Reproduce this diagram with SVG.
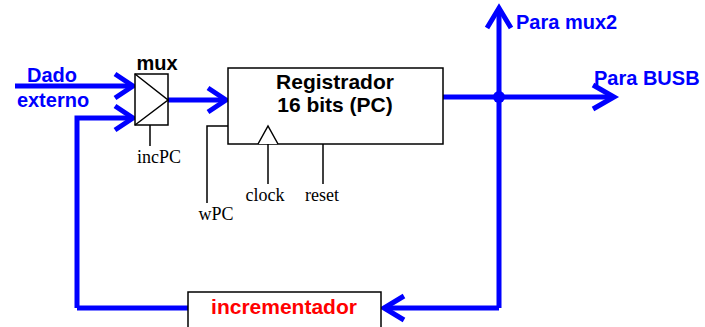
<svg xmlns="http://www.w3.org/2000/svg" width="705" height="327" viewBox="0 0 705 327">
  <defs>
    <style>
      .bus { stroke: #0000ff; stroke-width: 5; fill: none; stroke-linejoin: miter; }
      .head { stroke: #0000ff; stroke-width: 5; fill: none; stroke-linecap: butt; stroke-linejoin: miter; }
      .wire { stroke: #000; stroke-width: 1.5; fill: none; }
      .box { fill: #fff; stroke: #000; stroke-width: 1.5; }
      .lbl { font-family: "Liberation Sans", Arial, sans-serif; font-weight: bold; }
      .blue { fill: #0000ff; font-size: 20px; }
      .sig { font-family: "Liberation Serif", "Times New Roman", serif; font-size: 18px; fill: #000; }
    </style>
  </defs>

  <g id="connectors">
    <!-- Dado externo into mux -->
    <path class="bus" d="M15 86 H133"/>
    <path class="head" d="M115 74 L133 86 L115 98"/>
    <!-- feedback into mux lower input -->
    <path class="bus" d="M77 308 V118 H133"/>
    <path class="head" d="M115 106 L133 118 L115 130"/>
    <!-- mux to register -->
    <path class="bus" d="M168 100 H226"/>
    <path class="head" d="M208 88 L226 100 L208 112"/>
    <!-- register output -->
    <path class="bus" d="M443 97 H614"/>
    <path class="head" d="M593 85 L614 97 L593 109"/>
    <!-- up to mux2 -->
    <path class="bus" d="M499 308 V8"/>
    <path class="head" d="M487 28 L499 8 L511 28"/>
    <circle cx="499" cy="97" r="6" fill="#0000ff"/>
    <!-- to incrementador -->
    <path class="bus" d="M499 308 H384"/>
    <path class="head" d="M404 296 L384 308 L404 320"/>
    <!-- incrementador back to feedback line -->
    <path class="bus" d="M188 308 H77"/>
    <!-- control wires -->
    <path class="wire" d="M150 125 V146"/>
    <path class="wire" d="M207 203 V126 H228"/>
    <path class="wire" d="M268 144 V184"/>
    <path class="wire" d="M323 144 V184"/>
  </g>

  <g id="mux">
    <rect class="box" x="135" y="74" width="33" height="51"/>
    <path class="wire" d="M135 74 L168 100 L135 125"/>
    <text class="lbl" x="157" y="70" font-size="20" text-anchor="middle">mux</text>
  </g>

  <g id="registrador">
    <rect class="box" x="228" y="68" width="215" height="76"/>
    <path class="box" d="M258 144 L268 126 L278 144"/>
    <text class="lbl" x="335" y="89" font-size="21" text-anchor="middle">Registrador</text>
    <text class="lbl" x="335" y="112" font-size="21" text-anchor="middle">16 bits (PC)</text>
  </g>

  <g id="incrementador">
    <rect class="box" x="188" y="292" width="193" height="40"/>
    <text class="lbl" x="284" y="314" font-size="21" fill="#ff0000" text-anchor="middle">incrementador</text>
  </g>

  <g id="labels">
    <text class="lbl blue" x="52" y="82" text-anchor="middle">Dado</text>
    <text class="lbl blue" x="53" y="107" text-anchor="middle">externo</text>
    <text class="lbl blue" x="516" y="29">Para mux2</text>
    <text class="lbl blue" x="594" y="85">Para BUSB</text>
    <text class="sig" x="159" y="163" text-anchor="middle">incPC</text>
    <text class="sig" x="265" y="201" text-anchor="middle">clock</text>
    <text class="sig" x="322" y="201" text-anchor="middle">reset</text>
    <text class="sig" x="216" y="220" text-anchor="middle">wPC</text>
  </g>
</svg>
